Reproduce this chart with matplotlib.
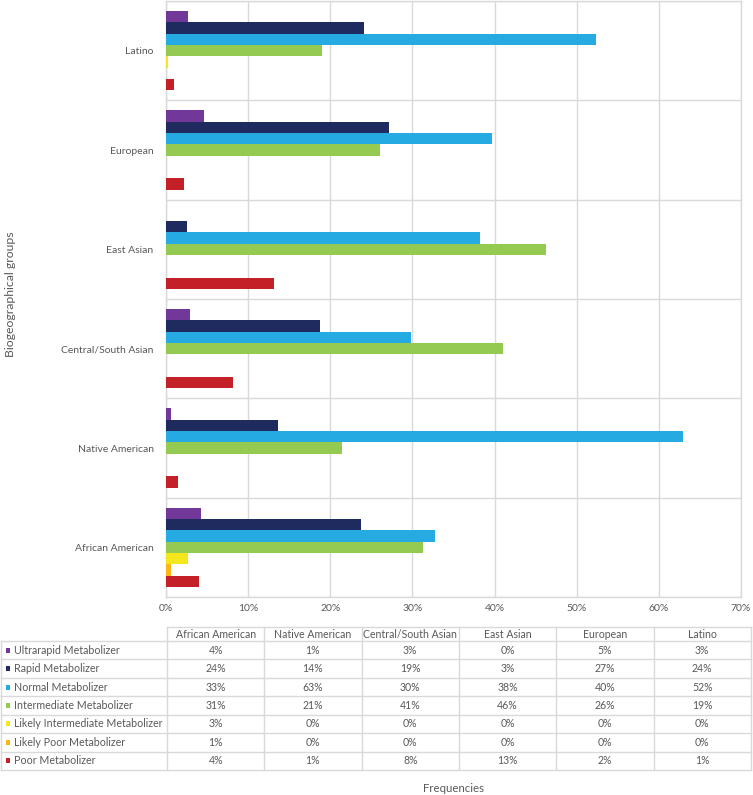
import matplotlib
matplotlib.use("Agg")
import matplotlib.pyplot as plt
from matplotlib.lines import Line2D
from matplotlib.patches import Rectangle
import numpy as np

plt.rcParams['font.family'] = ['Lato', 'DejaVu Sans']

groups = ["African American", "Native American", "Central/South Asian",
          "East Asian", "European", "Latino"]
series = ["Ultrarapid Metabolizer", "Rapid Metabolizer", "Normal Metabolizer",
          "Intermediate Metabolizer", "Likely Intermediate Metabolizer",
          "Likely Poor Metabolizer", "Poor Metabolizer"]

ultrarapid = [4.3, 0.65, 2.9, 0.0, 4.6, 2.7]
rapid = [23.7, 13.6, 18.7, 2.6, 27.2, 24.1]
normal = [32.8, 62.9, 29.8, 38.2, 39.7, 52.4]
intermediate = [31.3, 21.4, 41.0, 46.2, 26.1, 19.0]
likely_intermediate = [2.7, 0.0, 0.0, 0.0, 0.0, 0.2]
likely_poor = [0.65, 0.0, 0.0, 0.0, 0.0, 0.0]
poor = [4.0, 1.4, 8.2, 13.1, 2.2, 1.0]
all_series = [ultrarapid, rapid, normal, intermediate,
              likely_intermediate, likely_poor, poor]

xticks = [0, 10, 20, 30, 40, 50, 60, 70]
colors = ["#71389A", "#1F2B5F", "#25ABE2", "#94C952", "#F4E81C", "#FDB714", "#C42027"]

TXT = "#595959"
GRID = "#D9D9D9"
W, H = 753, 795
fig = plt.figure(figsize=(W / 100, H / 100), dpi=100)

def fx(x):
    return x / W

def fy(y):
    return 1 - y / H

ax = fig.add_axes([fx(166), fy(597), (741 - 166) / W, (597 - 1) / H])

n = len(all_series)
bh = 0.114
y = np.arange(len(groups))
for i, (vals, c) in enumerate(zip(all_series, colors)):
    pos = y + n * bh / 2 - (i + 0.5) * bh
    ax.barh(pos, vals, height=bh, color=c, linewidth=0, zorder=3)

ax.set_xlim(0, 70)
ax.set_ylim(-0.5, len(groups) - 0.5)
ax.set_xticks(xticks)
ax.set_xticklabels([f"{t}%" for t in xticks])
ax.set_yticks(y)
ax.set_yticklabels(groups)
ax.set_yticks(np.arange(-0.5, len(groups)), minor=True)
ax.tick_params(axis='both', which='both', length=0, labelsize=7.5, labelcolor=TXT)
ax.tick_params(axis='x', pad=5)
ax.tick_params(axis='y', pad=9)
ax.grid(axis='x', which='major', color=GRID, linewidth=1, zorder=0)
ax.grid(axis='y', which='minor', color=GRID, linewidth=1, zorder=0)
for s in ax.spines.values():
    s.set_color(GRID)
    s.set_linewidth(1)

# Data table
col_x = np.linspace(167, 751, len(groups) + 1)
head_top, head_bot = 627, 641
row_h = (770 - 641) / n
row_y = [head_bot + row_h * k for k in range(n + 1)]

def hline(yy, x0, x1):
    fig.add_artist(Line2D([fx(x0), fx(x1)], [fy(yy), fy(yy)], color=GRID, lw=1,
                          transform=fig.transFigure))

def vline(xx, y0, y1):
    fig.add_artist(Line2D([fx(xx), fx(xx)], [fy(y0), fy(y1)], color=GRID, lw=1,
                          transform=fig.transFigure))

hline(head_top, col_x[0], col_x[-1])
for ry in row_y:
    hline(ry, 0.5, col_x[-1])
vline(0.5, row_y[0], row_y[-1])
for cx in col_x:
    vline(cx, head_top, row_y[-1])

for j, g in enumerate(groups):
    fig.text(fx((col_x[j] + col_x[j + 1]) / 2), fy((head_top + head_bot) / 2), g,
             ha='center', va='center', fontsize=7.6, color=TXT)

for i, (name, vals, c) in enumerate(zip(series, all_series, colors)):
    cy = (row_y[i] + row_y[i + 1]) / 2
    fig.add_artist(Rectangle((fx(5.5), fy(cy + 2.5)), 4.5 / W, 5 / H,
                             facecolor=c, edgecolor='none', transform=fig.transFigure))
    fig.text(fx(13.5), fy(cy), name, ha='left', va='center', fontsize=7.7, color=TXT)
    for j, v in enumerate(vals):
        fig.text(fx((col_x[j] + col_x[j + 1]) / 2), fy(cy), f"{v:.0f}%",
                 ha='center', va='center', fontsize=7.6, color=TXT)

fig.text(fx(453), fy(788), "Frequencies", ha='center', va='center', fontsize=8.2, color=TXT)
fig.text(fx(11), fy(294), "Biogeographical groups", ha='center', va='center',
         rotation=90, fontsize=8.8, color=TXT)

fig.savefig("out.png", dpi=100)
